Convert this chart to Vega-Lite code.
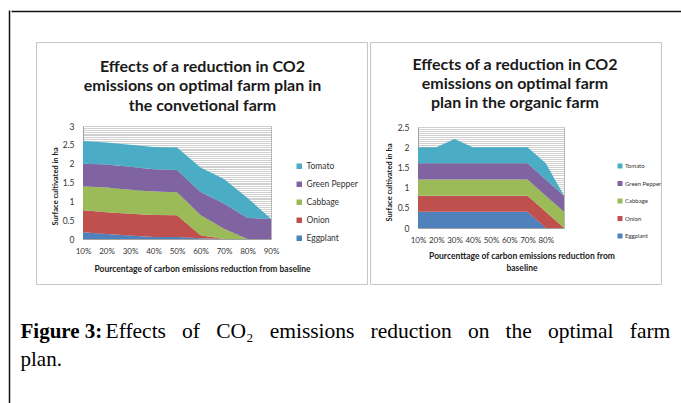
{
  "$schema": "https://vega.github.io/schema/vega-lite/v6.json",
  "padding": {"left": 7, "top": 6, "right": 0, "bottom": 0},
  "background": "white",
  "config": {"font": "Lato", "legend": {"padding": 0}},
  "datasets": {
    "conv": [
      {"pct": "10%", "crop": "Eggplant", "s": 1, "ha": 0.18}, {"pct": "20%", "crop": "Eggplant", "s": 1, "ha": 0.13}, {"pct": "30%", "crop": "Eggplant", "s": 1, "ha": 0.09}, {"pct": "40%", "crop": "Eggplant", "s": 1, "ha": 0.05}, {"pct": "50%", "crop": "Eggplant", "s": 1, "ha": 0.05}, {"pct": "60%", "crop": "Eggplant", "s": 1, "ha": 0.02}, {"pct": "70%", "crop": "Eggplant", "s": 1, "ha": 0}, {"pct": "80%", "crop": "Eggplant", "s": 1, "ha": 0}, {"pct": "90%", "crop": "Eggplant", "s": 1, "ha": 0},
      {"pct": "10%", "crop": "Onion", "s": 2, "ha": 0.58}, {"pct": "20%", "crop": "Onion", "s": 2, "ha": 0.58}, {"pct": "30%", "crop": "Onion", "s": 2, "ha": 0.58}, {"pct": "40%", "crop": "Onion", "s": 2, "ha": 0.59}, {"pct": "50%", "crop": "Onion", "s": 2, "ha": 0.58}, {"pct": "60%", "crop": "Onion", "s": 2, "ha": 0.08}, {"pct": "70%", "crop": "Onion", "s": 2, "ha": 0}, {"pct": "80%", "crop": "Onion", "s": 2, "ha": 0}, {"pct": "90%", "crop": "Onion", "s": 2, "ha": 0},
      {"pct": "10%", "crop": "Cabbage", "s": 3, "ha": 0.64}, {"pct": "20%", "crop": "Cabbage", "s": 3, "ha": 0.66}, {"pct": "30%", "crop": "Cabbage", "s": 3, "ha": 0.64}, {"pct": "40%", "crop": "Cabbage", "s": 3, "ha": 0.62}, {"pct": "50%", "crop": "Cabbage", "s": 3, "ha": 0.61}, {"pct": "60%", "crop": "Cabbage", "s": 3, "ha": 0.54}, {"pct": "70%", "crop": "Cabbage", "s": 3, "ha": 0.27}, {"pct": "80%", "crop": "Cabbage", "s": 3, "ha": 0}, {"pct": "90%", "crop": "Cabbage", "s": 3, "ha": 0},
      {"pct": "10%", "crop": "Green Pepper", "s": 4, "ha": 0.60}, {"pct": "20%", "crop": "Green Pepper", "s": 4, "ha": 0.61}, {"pct": "30%", "crop": "Green Pepper", "s": 4, "ha": 0.61}, {"pct": "40%", "crop": "Green Pepper", "s": 4, "ha": 0.59}, {"pct": "50%", "crop": "Green Pepper", "s": 4, "ha": 0.59}, {"pct": "60%", "crop": "Green Pepper", "s": 4, "ha": 0.61}, {"pct": "70%", "crop": "Green Pepper", "s": 4, "ha": 0.67}, {"pct": "80%", "crop": "Green Pepper", "s": 4, "ha": 0.56}, {"pct": "90%", "crop": "Green Pepper", "s": 4, "ha": 0.53},
      {"pct": "10%", "crop": "Tomato", "s": 5, "ha": 0.60}, {"pct": "20%", "crop": "Tomato", "s": 5, "ha": 0.58}, {"pct": "30%", "crop": "Tomato", "s": 5, "ha": 0.58}, {"pct": "40%", "crop": "Tomato", "s": 5, "ha": 0.59}, {"pct": "50%", "crop": "Tomato", "s": 5, "ha": 0.60}, {"pct": "60%", "crop": "Tomato", "s": 5, "ha": 0.65}, {"pct": "70%", "crop": "Tomato", "s": 5, "ha": 0.65}, {"pct": "80%", "crop": "Tomato", "s": 5, "ha": 0.53}, {"pct": "90%", "crop": "Tomato", "s": 5, "ha": 0}
    ],
    "org": [
      {"pct": "10%", "crop": "Eggplant", "s": 1, "ha": 0.4}, {"pct": "20%", "crop": "Eggplant", "s": 1, "ha": 0.4}, {"pct": "30%", "crop": "Eggplant", "s": 1, "ha": 0.4}, {"pct": "40%", "crop": "Eggplant", "s": 1, "ha": 0.4}, {"pct": "50%", "crop": "Eggplant", "s": 1, "ha": 0.4}, {"pct": "60%", "crop": "Eggplant", "s": 1, "ha": 0.4}, {"pct": "70%", "crop": "Eggplant", "s": 1, "ha": 0.4}, {"pct": "80%", "crop": "Eggplant", "s": 1, "ha": 0}, {"pct": "90%", "crop": "Eggplant", "s": 1, "ha": 0},
      {"pct": "10%", "crop": "Onion", "s": 2, "ha": 0.4}, {"pct": "20%", "crop": "Onion", "s": 2, "ha": 0.4}, {"pct": "30%", "crop": "Onion", "s": 2, "ha": 0.4}, {"pct": "40%", "crop": "Onion", "s": 2, "ha": 0.4}, {"pct": "50%", "crop": "Onion", "s": 2, "ha": 0.4}, {"pct": "60%", "crop": "Onion", "s": 2, "ha": 0.4}, {"pct": "70%", "crop": "Onion", "s": 2, "ha": 0.4}, {"pct": "80%", "crop": "Onion", "s": 2, "ha": 0.4}, {"pct": "90%", "crop": "Onion", "s": 2, "ha": 0},
      {"pct": "10%", "crop": "Cabbage", "s": 3, "ha": 0.4}, {"pct": "20%", "crop": "Cabbage", "s": 3, "ha": 0.4}, {"pct": "30%", "crop": "Cabbage", "s": 3, "ha": 0.4}, {"pct": "40%", "crop": "Cabbage", "s": 3, "ha": 0.4}, {"pct": "50%", "crop": "Cabbage", "s": 3, "ha": 0.4}, {"pct": "60%", "crop": "Cabbage", "s": 3, "ha": 0.4}, {"pct": "70%", "crop": "Cabbage", "s": 3, "ha": 0.4}, {"pct": "80%", "crop": "Cabbage", "s": 3, "ha": 0.4}, {"pct": "90%", "crop": "Cabbage", "s": 3, "ha": 0.4},
      {"pct": "10%", "crop": "Green Pepper", "s": 4, "ha": 0.4}, {"pct": "20%", "crop": "Green Pepper", "s": 4, "ha": 0.4}, {"pct": "30%", "crop": "Green Pepper", "s": 4, "ha": 0.4}, {"pct": "40%", "crop": "Green Pepper", "s": 4, "ha": 0.4}, {"pct": "50%", "crop": "Green Pepper", "s": 4, "ha": 0.4}, {"pct": "60%", "crop": "Green Pepper", "s": 4, "ha": 0.4}, {"pct": "70%", "crop": "Green Pepper", "s": 4, "ha": 0.4}, {"pct": "80%", "crop": "Green Pepper", "s": 4, "ha": 0.4}, {"pct": "90%", "crop": "Green Pepper", "s": 4, "ha": 0.4},
      {"pct": "10%", "crop": "Tomato", "s": 5, "ha": 0.4}, {"pct": "20%", "crop": "Tomato", "s": 5, "ha": 0.4}, {"pct": "30%", "crop": "Tomato", "s": 5, "ha": 0.6}, {"pct": "40%", "crop": "Tomato", "s": 5, "ha": 0.4}, {"pct": "50%", "crop": "Tomato", "s": 5, "ha": 0.4}, {"pct": "60%", "crop": "Tomato", "s": 5, "ha": 0.4}, {"pct": "70%", "crop": "Tomato", "s": 5, "ha": 0.4}, {"pct": "80%", "crop": "Tomato", "s": 5, "ha": 0.4}, {"pct": "90%", "crop": "Tomato", "s": 5, "ha": 0}
    ]
  },
  "bounds": "flush",
  "spacing": 3,
  "resolve": {"scale": {"color": "independent"}, "legend": {"color": "independent"}},
  "hconcat": [
    {
      "width": 331, "height": 242,
      "view": {"stroke": "#c6c6c6", "strokeWidth": 1},
      "resolve": {"scale": {"x": "independent", "y": "independent"}, "axis": {"x": "independent", "y": "independent"}},
      "layer": [
        {
          "data": {"name": "conv"},
          "mark": {"type": "area", "interpolate": "linear"},
          "encoding": {
            "x": {
              "field": "pct", "type": "ordinal",
              "scale": {"type": "point", "range": [47, 235], "padding": 0},
              "axis": {
                "orient": "bottom", "offset": -45, "ticks": false, "grid": false, "domainColor": "#a0a0a0", "labelAngle": 0,
                "labelFont": "Lato", "labelFontSize": 8, "labelColor": "#333333", "labelPadding": 8,
                "title": "Pourcentage of carbon emissions reduction from baseline",
                "titleFont": "Lato", "titleFontSize": 8.5, "titleFontWeight": "bold", "titleColor": "#1a1a1a",
                "titleX": 166, "titleY": 29, "titleBaseline": "middle", "titleAlign": "center"
              }
            },
            "y": {
              "field": "ha", "type": "quantitative", "stack": "zero",
              "scale": {"domain": [0, 3], "range": [197, 84], "nice": false},
              "axis": {
                "orient": "left", "offset": -47, "ticks": false, "domainColor": "#a0a0a0",
                "values": [0,0.05,0.1,0.15,0.2,0.25,0.3,0.35,0.4,0.45,0.5,0.55,0.6,0.65,0.7,0.75,0.8,0.85,0.9,0.95,1,1.05,1.1,1.15,1.2,1.25,1.3,1.35,1.4,1.45,1.5,1.55,1.6,1.65,1.7,1.75,1.8,1.85,1.9,1.95,2,2.05,2.1,2.15,2.2,2.25,2.3,2.35,2.4,2.45,2.5,2.55,2.6,2.65,2.7,2.75,2.8,2.85,2.9,2.95,3],
                "labelExpr": "round(datum.value*20) % 10 === 0 ? format(datum.value, '.1~f') : ''",
                "labelOverlap": false, "grid": true, "gridColor": "#cfcfcf", "gridWidth": 1,
                "labelFont": "Lato", "labelFontSize": 8.5, "labelColor": "#333333", "labelPadding": 9,
                "title": "Surface cultivated in ha", "titleFont": "Lato", "titleFontSize": 7.5, "titleFontWeight": "bold",
                "titleColor": "#1a1a1a", "titleX": -28, "titleY": 144, "titleAngle": -90, "titleBaseline": "middle", "titleAlign": "center"
              }
            },
            "color": {
              "field": "crop", "type": "nominal",
              "scale": {"domain": ["Tomato", "Green Pepper", "Cabbage", "Onion", "Eggplant"], "range": ["#4BACC6", "#8064A2", "#9BBB59", "#C0504D", "#4F81BD"]},
              "legend": {
                "title": null, "orient": "none", "legendX": 259, "legendY": 120, "symbolType": "square", "symbolSize": 30,
                "symbolStrokeWidth": 0, "labelFont": "Lato", "labelFontSize": 8.5, "labelColor": "#333333", "labelOffset": 3, "rowPadding": 9
              }
            },
            "order": {"field": "s", "type": "quantitative", "sort": "ascending"}
          }
        },
        {
          "data": {"values": [{"k": 0}]},
          "mark": {"type": "point", "opacity": 0},
          "encoding": {
            "x": {
              "field": "k", "type": "quantitative",
              "scale": {"domain": [0, 1], "range": [0, 331], "nice": false, "zero": false},
              "axis": {
                "orient": "top", "offset": 0, "domain": false, "labels": false, "ticks": false, "grid": false,
                "title": ["Effects of a reduction in CO2", "emissions on optimal farm plan in", "the convetional farm"],
                "titleFont": "Lato", "titleFontSize": 16, "titleFontWeight": "bold", "titleColor": "#1a1a1a", "titleLineHeight": 19.2,
                "titleX": 166, "titleY": 29.7, "titleAlign": "center", "titleBaseline": "alphabetic", "titleAngle": 0
              }
            },
            "y": {
              "field": "k", "type": "quantitative",
              "scale": {"domain": [0, 1], "range": [197, 84], "nice": false, "zero": false},
              "axis": {
                "orient": "right", "offset": -96, "labels": false, "ticks": false, "grid": false,
                "domainColor": "#b8b8b8", "domainWidth": 1,
                "title": "plan.", "titleFont": "Liberation Serif", "titleFontSize": 21, "titleFontWeight": "normal", "titleColor": "#000000",
                "titleX": -251, "titleY": 323, "titleAlign": "left", "titleBaseline": "alphabetic", "titleAngle": 0
              }
            }
          }
        },
        {
          "data": {"values": [{"k": 0}]},
          "mark": {"type": "point", "opacity": 0},
          "encoding": {
            "x": {
              "field": "k", "type": "quantitative",
              "scale": {"domain": [0, 1], "range": [-25, 700], "nice": false, "zero": false},
              "axis": {
                "orient": "top", "offset": 31, "labels": false, "ticks": false, "grid": false,
                "domainColor": "#111111", "domainWidth": 1.5,
                "title": "Figure 3:", "titleFont": "Liberation Serif", "titleFontSize": 21, "titleFontWeight": "bold", "titleColor": "#000000",
                "titleX": -16, "titleY": 326, "titleAlign": "left", "titleBaseline": "alphabetic", "titleAngle": 0
              }
            },
            "y": {
              "field": "k", "type": "quantitative",
              "scale": {"domain": [0, 1], "range": [-32, 420], "nice": false, "zero": false},
              "axis": {
                "orient": "left", "offset": 27, "labels": false, "ticks": false, "grid": false,
                "domainColor": "#111111", "domainWidth": 1.5,
                "title": "Effects\u00a0\u00a0\u00a0of\u00a0\u00a0\u00a0CO₂\u00a0\u00a0\u00a0emissions\u00a0\u00a0\u00a0reduction\u00a0\u00a0\u00a0on\u00a0\u00a0\u00a0the\u00a0\u00a0\u00a0optimal\u00a0\u00a0\u00a0farm",
                "titleFont": "Liberation Serif", "titleFontSize": 21.5, "titleFontWeight": "normal", "titleColor": "#000000",
                "titleX": 96, "titleY": 295, "titleAlign": "left", "titleBaseline": "alphabetic", "titleAngle": 0
              }
            }
          }
        }
      ]
    },
    {
      "width": 291, "height": 242,
      "view": {"stroke": "#c6c6c6", "strokeWidth": 1},
      "resolve": {"scale": {"x": "independent", "y": "independent"}, "axis": {"x": "independent", "y": "independent"}},
      "layer": [
        {
          "data": {"name": "org"},
          "mark": {"type": "area", "interpolate": "linear"},
          "encoding": {
            "x": {
              "field": "pct", "type": "ordinal",
              "scale": {"type": "point", "range": [48, 194], "padding": 0},
              "axis": {
                "orient": "bottom", "offset": -56, "ticks": false, "grid": false, "domainColor": "#a0a0a0", "labelAngle": 0,
                "labelExpr": "datum.value === '90%' ? '' : datum.label",
                "labelFont": "Lato", "labelFontSize": 8, "labelColor": "#333333", "labelPadding": 8,
                "title": ["Pourcenttage of carbon emissions reduction from", "baseline"],
                "titleFont": "Lato", "titleFontSize": 8.5, "titleFontWeight": "bold", "titleColor": "#1a1a1a", "titleLineHeight": 12,
                "titleX": 151.5, "titleY": 27, "titleBaseline": "middle", "titleAlign": "center"
              }
            },
            "y": {
              "field": "ha", "type": "quantitative", "stack": "zero",
              "scale": {"domain": [0, 2.5], "range": [186, 85], "nice": false},
              "axis": {
                "orient": "left", "offset": -48, "ticks": false, "domainColor": "#a0a0a0",
                "values": [0,0.05,0.1,0.15,0.2,0.25,0.3,0.35,0.4,0.45,0.5,0.55,0.6,0.65,0.7,0.75,0.8,0.85,0.9,0.95,1,1.05,1.1,1.15,1.2,1.25,1.3,1.35,1.4,1.45,1.5,1.55,1.6,1.65,1.7,1.75,1.8,1.85,1.9,1.95,2,2.05,2.1,2.15,2.2,2.25,2.3,2.35,2.4,2.45,2.5],
                "labelExpr": "round(datum.value*20) % 10 === 0 ? format(datum.value, '.1~f') : ''",
                "labelOverlap": false, "grid": true, "gridColor": "#cfcfcf", "gridWidth": 1,
                "labelFont": "Lato", "labelFontSize": 8.5, "labelColor": "#333333", "labelPadding": 9,
                "title": "Surface cultivated in ha", "titleFont": "Lato", "titleFontSize": 7.5, "titleFontWeight": "bold",
                "titleColor": "#1a1a1a", "titleX": -29, "titleY": 140, "titleAngle": -90, "titleBaseline": "middle", "titleAlign": "center"
              }
            },
            "color": {
              "field": "crop", "type": "nominal",
              "scale": {"domain": ["Tomato", "Green Pepper", "Cabbage", "Onion", "Eggplant"], "range": ["#4BACC6", "#8064A2", "#9BBB59", "#C0504D", "#4F81BD"]},
              "legend": {
                "title": null, "orient": "none", "legendX": 247, "legendY": 121, "symbolType": "square", "symbolSize": 25,
                "symbolStrokeWidth": 0, "labelFont": "Lato", "labelFontSize": 6, "labelColor": "#333333", "labelOffset": 2, "rowPadding": 11.5
              }
            },
            "order": {"field": "s", "type": "quantitative", "sort": "ascending"}
          }
        },
        {
          "data": {"values": [{"k": 0}]},
          "mark": {"type": "point", "opacity": 0},
          "encoding": {
            "x": {
              "field": "k", "type": "quantitative",
              "scale": {"domain": [0, 1], "range": [0, 291], "nice": false, "zero": false},
              "axis": {
                "orient": "top", "offset": 0, "domain": false, "labels": false, "ticks": false, "grid": false,
                "title": ["Effects of a reduction in CO2", "emissions on optimal farm", "plan in the organic farm"],
                "titleFont": "Lato", "titleFontSize": 16, "titleFontWeight": "bold", "titleColor": "#1a1a1a", "titleLineHeight": 19,
                "titleX": 144.5, "titleY": 27.3, "titleAlign": "center", "titleBaseline": "alphabetic", "titleAngle": 0
              }
            },
            "y": {
              "field": "k", "type": "quantitative",
              "scale": {"domain": [0, 1], "range": [186, 85], "nice": false, "zero": false},
              "axis": {
                "orient": "right", "offset": -97, "labels": false, "ticks": false, "grid": false, "title": null,
                "domainColor": "#b8b8b8", "domainWidth": 1
              }
            }
          }
        }
      ]
    }
  ]
}
